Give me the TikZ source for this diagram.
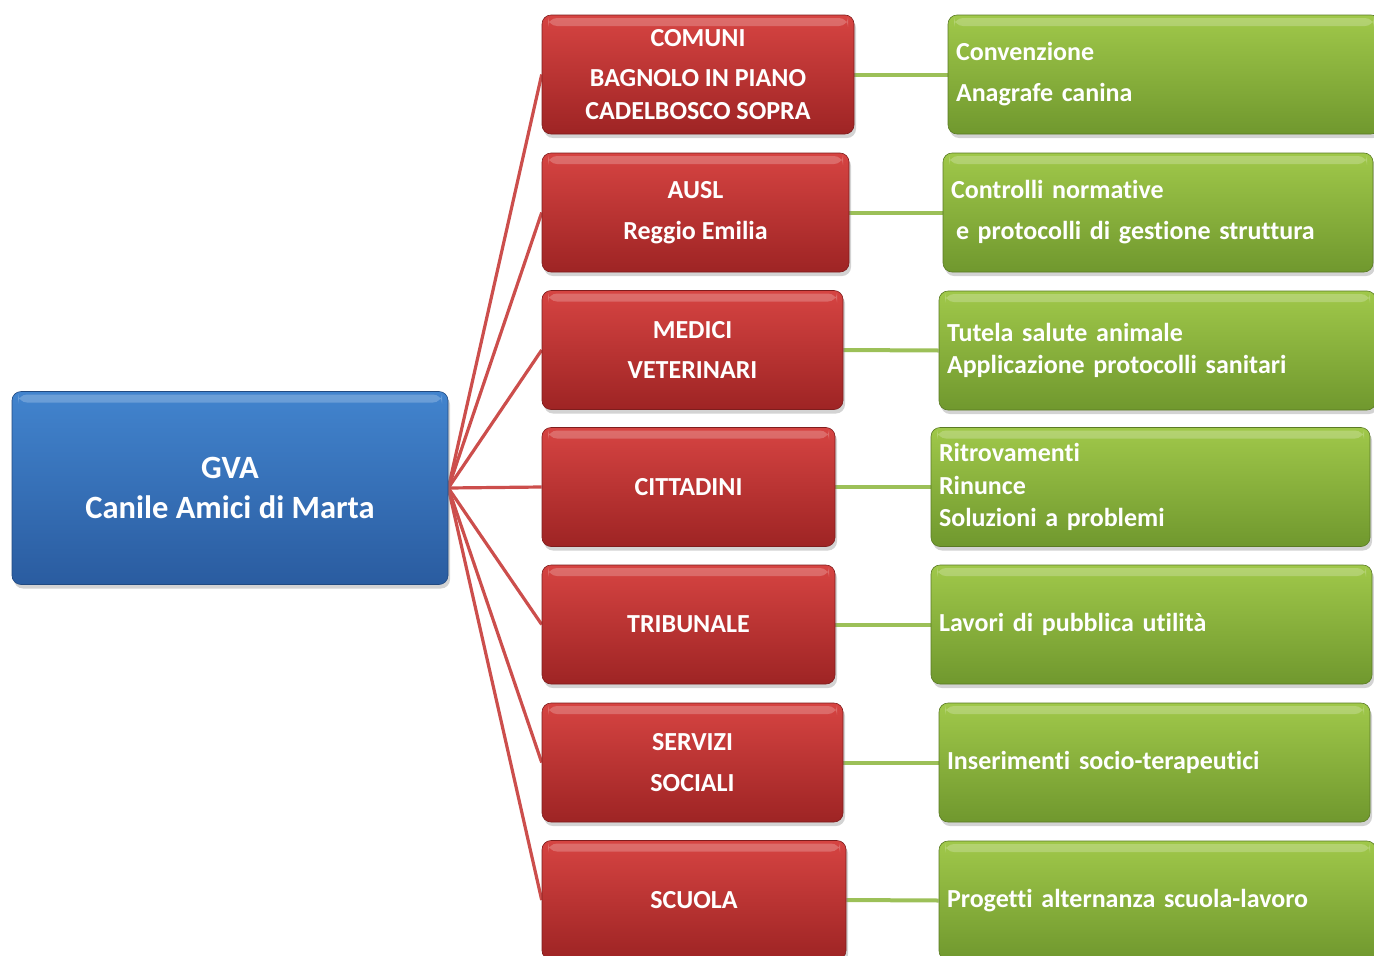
\documentclass[tikz,border=0pt]{standalone}
\usepackage{fontspec}
\setmainfont{Carlito}[Ligatures={NoCommon,NoContextual,NoRare},Contextuals=NoAlternate]
\usetikzlibrary{shadows,backgrounds}
\newcommand{\tix}{t\kern0pt i}
\definecolor{redtop}{RGB}{214,68,66}
\definecolor{redbot}{RGB}{158,36,36}
\definecolor{redline}{RGB}{204,78,76}
\definecolor{bluetop}{RGB}{66,132,206}
\definecolor{bluebot}{RGB}{42,92,160}
\definecolor{greentop}{RGB}{160,200,74}
\definecolor{greenbot}{RGB}{112,152,46}
\definecolor{greenline}{RGB}{156,192,88}
\tikzset{
  boxbase/.style={rounded corners=9pt, text=white, font=\bfseries\fontsize{26}{32.5}\selectfont,
    drop shadow={opacity=0.35, shadow xshift=2pt, shadow yshift=-4pt},
    path picture={\fill[white,opacity=0.22] ([yshift=-3pt,xshift=6pt]path picture bounding box.north west) rectangle ([yshift=-11pt,xshift=-6pt]path picture bounding box.north east);}},
  gvabox/.style={boxbase, top color=bluetop, bottom color=bluebot, draw=bluebot!80!black, line width=0.6pt,
    minimum width=436pt, minimum height=193pt, align=center, inner sep=0pt,
    font=\bfseries\fontsize{32.5}{40}\selectfont},
  redbox/.style={boxbase, top color=redtop, bottom color=redbot, draw=redbot!80!black, line width=0.6pt,
    minimum height=119pt, align=center, inner sep=0pt},
  greenbox/.style={boxbase, top color=greentop, bottom color=greenbot, draw=greenbot!80!black, line width=0.6pt,
    minimum height=119pt, align=left, inner xsep=8pt, inner ysep=0pt},
  redconn/.style={draw=redline, line width=3.2pt},
  greenconn/.style={draw=greenline, line width=4pt},
}
\begin{document}
\begin{tikzpicture}[x=1pt,y=-1pt]
\useasboundingbox (0,0) rectangle (1374,956);
\node[gvabox] (gva) at (230,488) {GVA\\Canile Amici di Marta};

\node[redbox, minimum width=312pt] (r1) at (698,74.5) {COMUNI\\[8pt]BAGNOLO IN PIANO\\CADELBOSCO SOPRA};
\node[redbox, minimum width=307pt] (r2) at (695.5,212.5) {AUSL\\[9pt]Reggio Emilia};
\node[redbox, minimum width=301pt] (r3) at (692.5,350) {MEDICI\\[8pt]VETERINARI};
\node[redbox, minimum width=293pt] (r4) at (688.5,487) {CITTADINI};
\node[redbox, minimum width=293pt] (r5) at (688.5,624.5) {TRIBUNALE};
\node[redbox, minimum width=301pt] (r6) at (692.5,762.5) {SERVIZI\\[8pt]SOCIALI};
\node[redbox, minimum width=304pt] (r7) at (694,900) {SCUOLA};

\node[greenbox, text width=416pt] (g1) at (1164,74.5) {Convenzione\\[8.5pt]Anagrafe canina};
\node[greenbox, text width=414pt] (g2) at (1158,212.5) {Controlli norma\tix{}ve\\[8.5pt]\hspace*{5pt}e protocolli di ges\tix{}one struttura};
\node[greenbox, text width=421pt] (g3) at (1157.5,350.5) {Tutela salute animale\\Applicazione protocolli sanitari};
\node[greenbox, text width=423pt] (g4) at (1150.5,487) {Ritrovamen\tix{}\\Rinunce\\Soluzioni a problemi};
\node[greenbox, text width=425pt] (g5) at (1151.5,624.5) {Lavori di pubblica u\tix{}lità};
\node[greenbox, text width=415pt] (g6) at (1154.5,762.5) {Inserimen\tix{} socio-terapeu\tix{}ci};
\node[greenbox, text width=421pt] (g7) at (1157.5,900.5) {Proget\tix{} alternanza scuola-lavoro};

\begin{scope}[on background layer]
\foreach \i in {1,...,7} {
  \draw[redconn] (gva.east) -- (r\i.west);
  \draw[greenconn] (r\i.east) -- (g\i.west);
}
\end{scope}
\end{tikzpicture}
\end{document}
